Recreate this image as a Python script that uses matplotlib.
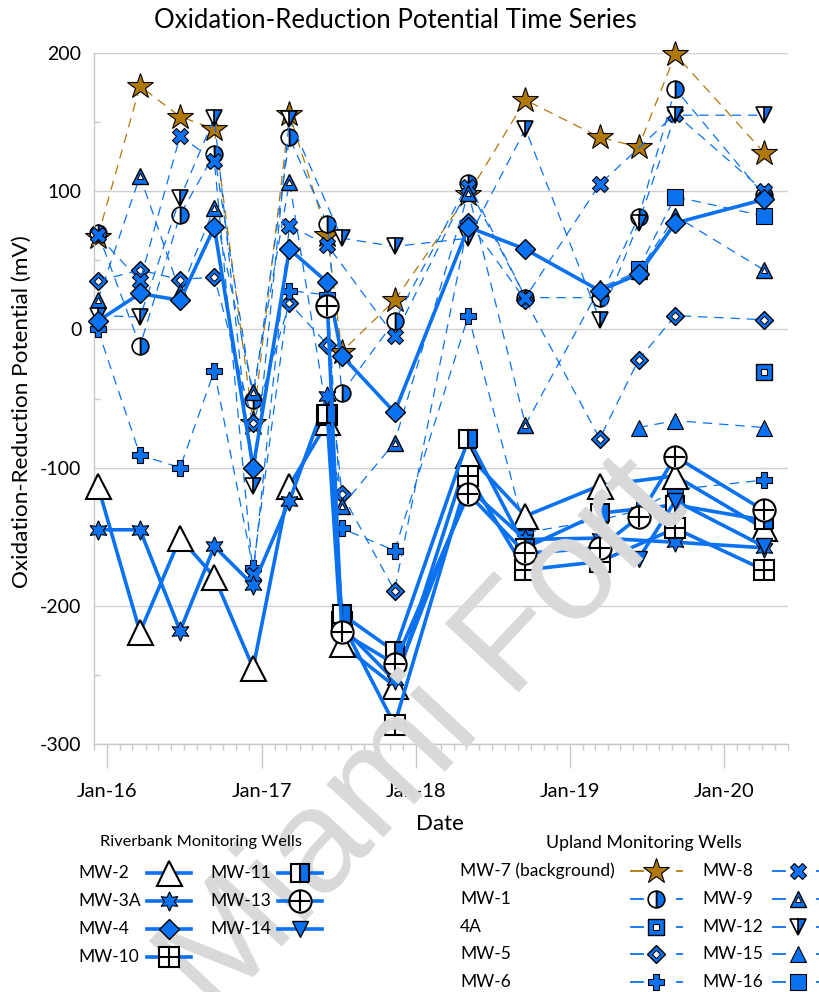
import numpy as np
import pandas as pd
import matplotlib
matplotlib.use("Agg")
import matplotlib.pyplot as plt
import matplotlib.dates as mdates
from matplotlib.lines import Line2D

# ---------------- data ----------------
dates = pd.to_datetime([
    "2015-12-10", "2016-03-19", "2016-06-22", "2016-09-11", "2016-12-12",
    "2017-03-08", "2017-06-06", "2017-07-10", "2017-11-12", "2018-05-06",
    "2018-09-18", "2019-03-13", "2019-06-13", "2019-09-08", "2020-04-05",
])
N = None
# Riverbank monitoring wells (mV)
mw2 = [-113, -219, -151, -179, -245, -113, -67, -228, -258, -91, -135, -113, N, -106, -144]
mw3a = [-145, -145, -218, -157, -185, -124, -48, -215, -254, -115, -152, -151, N, -154, -158]
mw4 = [6, 26, 21, 74, -100, 58, 34, -19, -60, 74, 58, 28, 40, 77, 94]
mw10 = [N, N, N, N, N, N, -62, -212, -286, -106, -174, -168, N, -144, -174]
mw11 = [N, N, N, N, N, N, -61, -206, -233, -79, -158, -133, N, -127, -138]
mw13 = [N, N, N, N, N, N, 17, -219, -242, -119, -162, -158, -136, -92, -131]
mw14 = [N, N, N, N, N, N, N, N, N, N, N, N, -166, -124, -157]
# Upland monitoring wells (mV)
mw7 = [67, 176, 154, 145, -68, 156, 68, -16, 21, 98, 166, 139, 132, 199, 128]
mw1 = [70, -12, 83, 127, -51, 139, 76, -46, 6, 106, 23, 23, 81, 174, 97]
w4a = [N, N, N, N, N, N, N, N, N, N, N, N, N, N, -31]
mw5 = [35, 43, 36, 38, -68, 19, -11, -119, -189, 78, 21, -79, -22, 10, 7]
mw6 = [0, -91, -100, -30, -173, 28, 25, -144, -160, 10, -147, -138, -131, -116, -109]
mw8 = [68, 35, 140, 122, -178, 75, 61, N, -5, 103, 23, 105, N, 156, 100]
mw9 = [21, 111, 27, 88, -45, 107, N, -128, -82, 99, -69, 30, 42, 82, 43]
mw12 = [10, 9, 95, 153, -113, 152, N, 66, 60, 66, 145, 7, 77, 155, 155]
mw15 = [N, N, N, N, N, N, N, N, N, N, N, N, -71, -66, -71]
mw16 = [N, N, N, N, N, N, N, N, N, N, N, N, 44, 96, 82]

riverbank_labels = ["MW-2", "MW-3A", "MW-4", "MW-10", "MW-11", "MW-13", "MW-14"]
upland_labels = ["MW-7 (background)", "MW-1", "4A", "MW-5", "MW-6",
                 "MW-8", "MW-9", "MW-12", "MW-15", "MW-16"]

# ---------------- styles ----------------
BLUE = "#0a72f0"
BROWN = "#b07808"
K = "black"

def mk(marker, ms, mfc=BLUE, mec=K, mew=1.0, **kw):
    d = dict(marker=marker, markersize=ms, markerfacecolor=mfc,
             markeredgecolor=mec, markeredgewidth=mew)
    d.update(kw)
    return d

river_style = {
    "MW-2": [mk("^", 18, "white", K, 1.5)],
    "MW-3A": [mk((6, 1, 0), 14, BLUE, K, 0.8)],
    "MW-4": [mk("D", 10, BLUE, K, 1.0)],
    "MW-10": [mk("s", 15, "white", K, 1.5), mk("+", 14.5, K, K, 1.5)],
    "MW-11": [mk("s", 13, BLUE, K, 1.5, fillstyle="right", markerfacecoloralt="white")],
    "MW-13": [mk("o", 16, "white", K, 1.5), mk("+", 15, K, K, 1.5)],
    "MW-14": [mk("v", 12, BLUE, K, 1.0)],
}
up_style = {
    "MW-7 (background)": [mk("*", 19, BROWN, K, 0.8)],
    "MW-1": [mk("o", 12, BLUE, K, 1.2, fillstyle="right", markerfacecoloralt="white")],
    "4A": [mk("s", 12, BLUE, K, 1.0), mk("s", 5, "white", K, 0.8)],
    "MW-5": [mk("D", 9, BLUE, K, 1.0), mk("D", 4, "white", K, 0.7)],
    "MW-6": [mk("P", 12, BLUE, K, 0.8)],
    "MW-8": [mk("X", 12, BLUE, K, 0.8)],
    "MW-9": [mk("^", 12, BLUE, K, 1.0), mk("^", 5, "white", K, 0.7)],
    "MW-12": [mk("v", 12, BLUE, K, 1.2, fillstyle="right", markerfacecoloralt="white")],
    "MW-15": [mk("^", 12, BLUE, K, 0.8)],
    "MW-16": [mk("s", 12, BLUE, K, 0.8)],
}
river_vals = [mw2, mw3a, mw4, mw10, mw11, mw13, mw14]
up_vals = [mw7, mw1, w4a, mw5, mw6, mw8, mw9, mw12, mw15, mw16]

FONT = ["Lato", "DejaVu Sans"]
plt.rcParams["font.family"] = FONT

W, H = 820, 992
fig = plt.figure(figsize=(W / 100, H / 100), dpi=100)

def fx(x):
    return x / W

def fy(y):
    return 1 - y / H

ax = fig.add_axes([fx(94), fy(744), (788 - 94) / W, (744 - 53) / H])
ax.patch.set_visible(False)

# watermark
fig.text(fx(425), fy(738), "Miami Fort", rotation=47, fontsize=106,
         color="#d9d9d9", ha="center", va="center", zorder=0,
         family=["Liberation Sans", "DejaVu Sans"])

DASH = (0, (7.5, 5.5))
z = 2.0

def draw(vals, color, ls, lw, layers):
    global z
    x = [d for d, v in zip(dates, vals) if v is not None]
    y = [v for v in vals if v is not None]
    ax.plot(x, y, color=color, ls=ls, lw=lw, zorder=z, clip_on=False,
            solid_capstyle="round")
    for L in layers:
        ax.plot(x, y, ls="none", zorder=z + 0.1, clip_on=False, **L)
    z += 0.2

for lab, vals in zip(upland_labels, up_vals):
    col = BROWN if lab.startswith("MW-7") else BLUE
    draw(vals, col, DASH, 0.9, up_style[lab])
for lab, vals in zip(riverbank_labels, river_vals):
    draw(vals, BLUE, "-", 2.6, river_style[lab])

# ---------------- axes ----------------
ax.set_xlim(pd.Timestamp("2015-12-01"), pd.Timestamp("2020-06-01"))
ax.set_ylim(-300, 200)
ax.set_yticks([-300, -200, -100, 0, 100, 200])
ax.set_yticks([-250, -150, -50, 50, 150], minor=True)
ax.grid(axis="y", color="#d0d0d0", lw=1.0, zorder=1)
ax.set_axisbelow(True)
for s in ["top", "right"]:
    ax.spines[s].set_visible(False)
for s in ["left", "bottom"]:
    ax.spines[s].set_color("#c8c8c8")
    ax.spines[s].set_linewidth(1.0)
ax.xaxis.set_major_locator(mdates.YearLocator(month=1, day=1))
ax.xaxis.set_major_formatter(mdates.DateFormatter("Jan-%y"))
ax.xaxis.set_minor_locator(mdates.MonthLocator())
ax.tick_params(axis="x", which="major", direction="out", length=17,
               color="#c8c8c8", width=1.0, labelsize=14.5, pad=11)
ax.tick_params(axis="x", which="minor", direction="out", length=4.5,
               color="#c8c8c8", width=1.0)
ax.tick_params(axis="y", which="major", length=0, labelsize=14, pad=9)
ax.tick_params(axis="y", which="minor", direction="in", length=4.5,
               color="#c8c8c8", width=1.0)
ax.set_yticklabels(["-300", "-200", "-100", "0", "100", "200"])

fig.text(fx(395), fy(20), "Oxidation-Reduction Potential Time Series",
         ha="center", va="center", fontsize=18.5)
fig.text(fx(22), fy(412), "Oxidation-Reduction Potential (mV)", rotation=90,
         ha="center", va="center", fontsize=16.2)
fig.text(fx(440), fy(824), "Date", ha="center", va="center", fontsize=16)

# ---------------- legends (manual) ----------------
def leg_marker(xc, yc, layers):
    for L in layers:
        fig.add_artist(Line2D([fx(xc)], [fy(yc)], transform=fig.transFigure,
                              ls="none", **L))

def leg_solid(x0, x1, y, layers):
    fig.add_artist(Line2D([fx(x0), fx(x1)], [fy(y), fy(y)], transform=fig.transFigure,
                          color=BLUE, lw=2.6))
    leg_marker((x0 + x1) / 2, y, layers)

def leg_dash(x0, xc, x1, y, layers, color):
    fig.add_artist(Line2D([fx(x0), fx(x0 + 12)], [fy(y), fy(y)],
                          transform=fig.transFigure, color=color, lw=1.3))
    fig.add_artist(Line2D([fx(x1 - 5), fx(x1)], [fy(y), fy(y)],
                          transform=fig.transFigure, color=color, lw=1.3))
    leg_marker(xc, y, layers)

LFS = 12.5
fig.text(fx(201), fy(842), "Riverbank Monitoring Wells", ha="center", va="center", fontsize=11.8)
rows_r = [873, 901, 929, 957]
for i, lab in enumerate(riverbank_labels):
    if i < 4:
        lx, h0, h1, yy = 78, 147, 191, rows_r[i]
    else:
        lx, h0, h1, yy = 210, 278, 322, rows_r[i - 4]
    fig.text(fx(lx), fy(yy), lab, ha="left", va="center", fontsize=LFS)
    leg_solid(h0, h1, yy, river_style[lab])

fig.text(fx(644), fy(843), "Upland Monitoring Wells", ha="center", va="center", fontsize=12.8)
rows_u = [871, 899, 927, 954, 982]
for i, lab in enumerate(upland_labels):
    col = BROWN if lab.startswith("MW-7") else BLUE
    if i < 5:
        lx, yy = 460, rows_u[i]
        leg_dash(631, 656, 682, yy, up_style[lab], col)
    else:
        lx, yy = 702, rows_u[i - 5]
        leg_dash(773, 798, 822, yy, up_style[lab], col)
    fig.text(fx(lx), fy(yy), lab, ha="left", va="center", fontsize=LFS)

fig.savefig("out.png", dpi=100)
